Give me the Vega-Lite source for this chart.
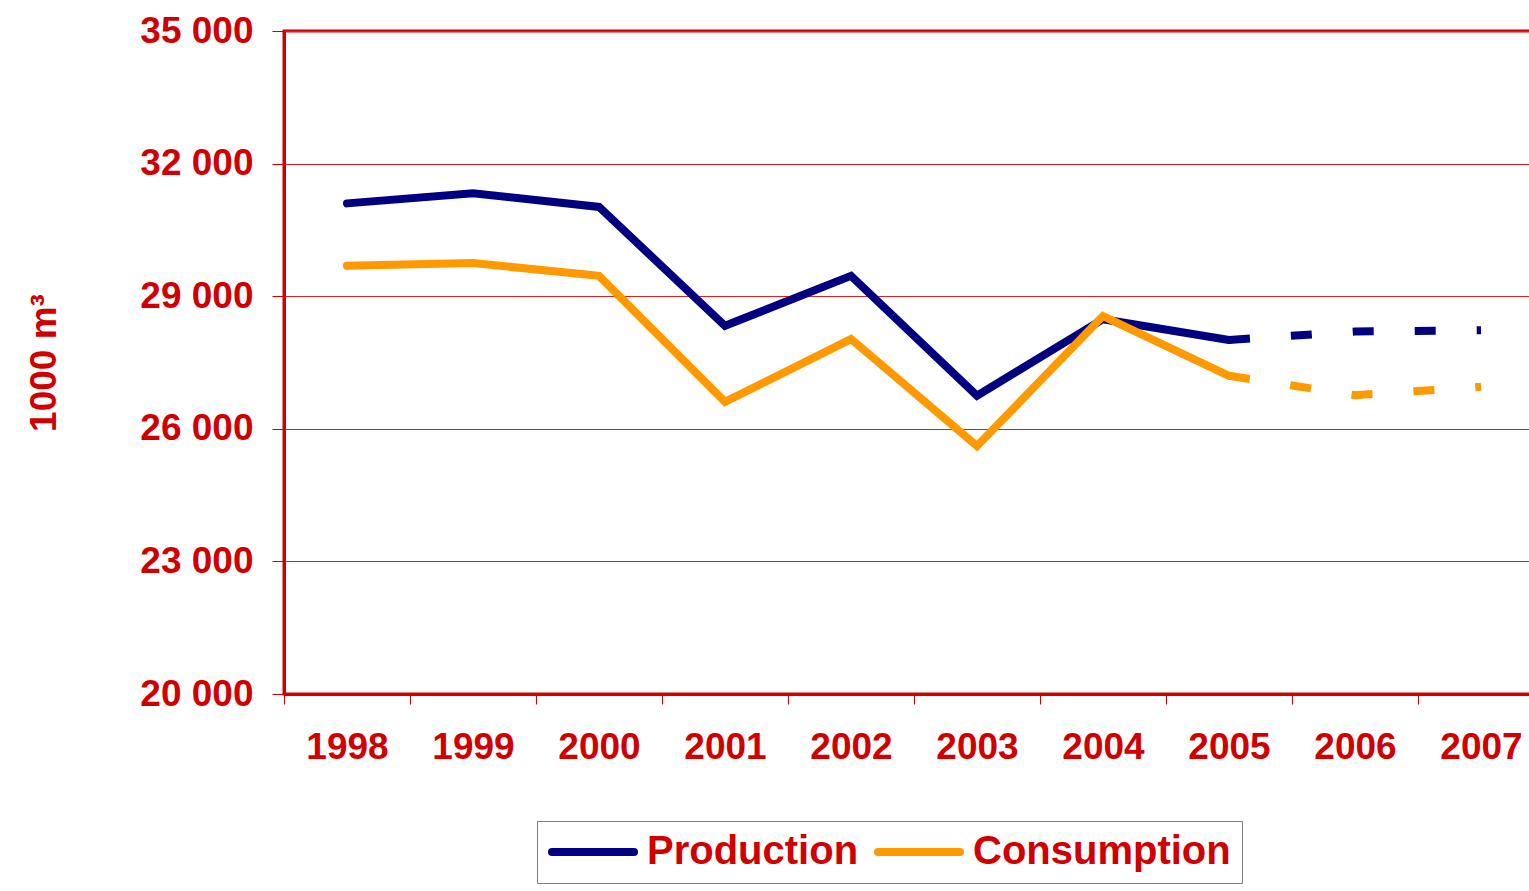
{
  "$schema": "https://vega.github.io/schema/vega-lite/v6.json",
  "autosize": {"type": "none"},
  "padding": {"left": 284, "top": 31, "right": 0, "bottom": 197},
  "width": 1260,
  "height": 663,
  "config": {
    "font": "Liberation Sans",
    "view": {"stroke": "#D00000", "strokeWidth": 3}
  },
  "data": {
    "values": [
      {"series": "Production", "year": "1998", "value": 31100, "seg": "actual"},
      {"series": "Production", "year": "1999", "value": 31330, "seg": "actual"},
      {"series": "Production", "year": "2000", "value": 31020, "seg": "actual"},
      {"series": "Production", "year": "2001", "value": 28330, "seg": "actual"},
      {"series": "Production", "year": "2002", "value": 29460, "seg": "actual"},
      {"series": "Production", "year": "2003", "value": 26750, "seg": "actual"},
      {"series": "Production", "year": "2004", "value": 28480, "seg": "actual"},
      {"series": "Production", "year": "2005", "value": 28010, "seg": "actual"},
      {"series": "Production", "year": "2005", "value": 28010, "seg": "forecast"},
      {"series": "Production", "year": "2006", "value": 28200, "seg": "forecast"},
      {"series": "Production", "year": "2007", "value": 28230, "seg": "forecast"},
      {"series": "Consumption", "year": "1998", "value": 29690, "seg": "actual"},
      {"series": "Consumption", "year": "1999", "value": 29750, "seg": "actual"},
      {"series": "Consumption", "year": "2000", "value": 29460, "seg": "actual"},
      {"series": "Consumption", "year": "2001", "value": 26610, "seg": "actual"},
      {"series": "Consumption", "year": "2002", "value": 28030, "seg": "actual"},
      {"series": "Consumption", "year": "2003", "value": 25610, "seg": "actual"},
      {"series": "Consumption", "year": "2004", "value": 28550, "seg": "actual"},
      {"series": "Consumption", "year": "2005", "value": 27200, "seg": "actual"},
      {"series": "Consumption", "year": "2005", "value": 27200, "seg": "forecast"},
      {"series": "Consumption", "year": "2006", "value": 26760, "seg": "forecast"},
      {"series": "Consumption", "year": "2007", "value": 26950, "seg": "forecast"}
    ]
  },
  "encoding": {
    "x": {
      "field": "year", "type": "ordinal",
      "scale": {"type": "band", "paddingInner": 0, "paddingOuter": 0},
      "axis": {
        "title": null, "labelAngle": 0,
        "tickBand": "extent",
        "domainColor": "#D00000", "domainWidth": 3,
        "tickColor": "#D00000", "tickWidth": 1, "tickSize": 10,
        "labelColor": "#D00000", "labelFont": "Liberation Sans", "labelFontSize": 37, "labelFontWeight": "bold",
        "labelPadding": 25, "grid": false
      }
    },
    "y": {
      "field": "value", "type": "quantitative",
      "scale": {"domain": [20000, 35000], "nice": false, "zero": false},
      "axis": {
        "title": "1000 m³",
        "titleColor": "#D00000", "titleFont": "Liberation Sans", "titleFontSize": 37, "titleFontWeight": "bold",
        "titlePadding": 76,
        "values": [20000, 23000, 26000, 29000, 32000, 35000],
        "labelExpr": "replace(format(datum.value, ','), ',', ' ')",
        "labelColor": "#D00000", "labelFont": "Liberation Sans", "labelFontSize": 37, "labelFontWeight": "bold",
        "labelPadding": 19,
        "domainColor": "#D00000", "domainWidth": 3,
        "tickColor": "#D00000", "tickWidth": 1, "tickSize": 12,
        "grid": true, "gridColor": "#E02020", "gridWidth": 1
      }
    },
    "color": {
      "field": "series", "type": "nominal",
      "scale": {"domain": ["Production", "Consumption"], "range": ["#000080", "#FF9900"]},
      "legend": {
        "title": null, "orient": "none", "legendX": 253, "legendY": 790,
        "direction": "horizontal", "columns": 2,
        "strokeColor": "#808080", "padding": 11,
        "symbolType": "M-5,0H5", "symbolSize": 269, "symbolStrokeWidth": 8,
        "symbolOffset": 25,
        "labelColor": "#D00000", "labelFont": "Liberation Sans", "labelFontSize": 40, "labelFontWeight": "bold",
        "labelOffset": 34, "columnPadding": 2, "labelLimit": 400,
        "encode": {"symbols": {"update": {"strokeCap": {"value": "round"}, "fill": {"value": "transparent"}}}}
      }
    }
  },
  "layer": [
    {
      "transform": [{"filter": "datum.seg === 'actual'"}],
      "mark": {"type": "line", "strokeWidth": 8, "strokeCap": "round", "strokeJoin": "miter"}
    },
    {
      "transform": [{"filter": "datum.seg === 'forecast'"}],
      "mark": {"type": "line", "strokeWidth": 8, "strokeCap": "butt", "strokeDash": [21, 41]}
    }
  ]
}
